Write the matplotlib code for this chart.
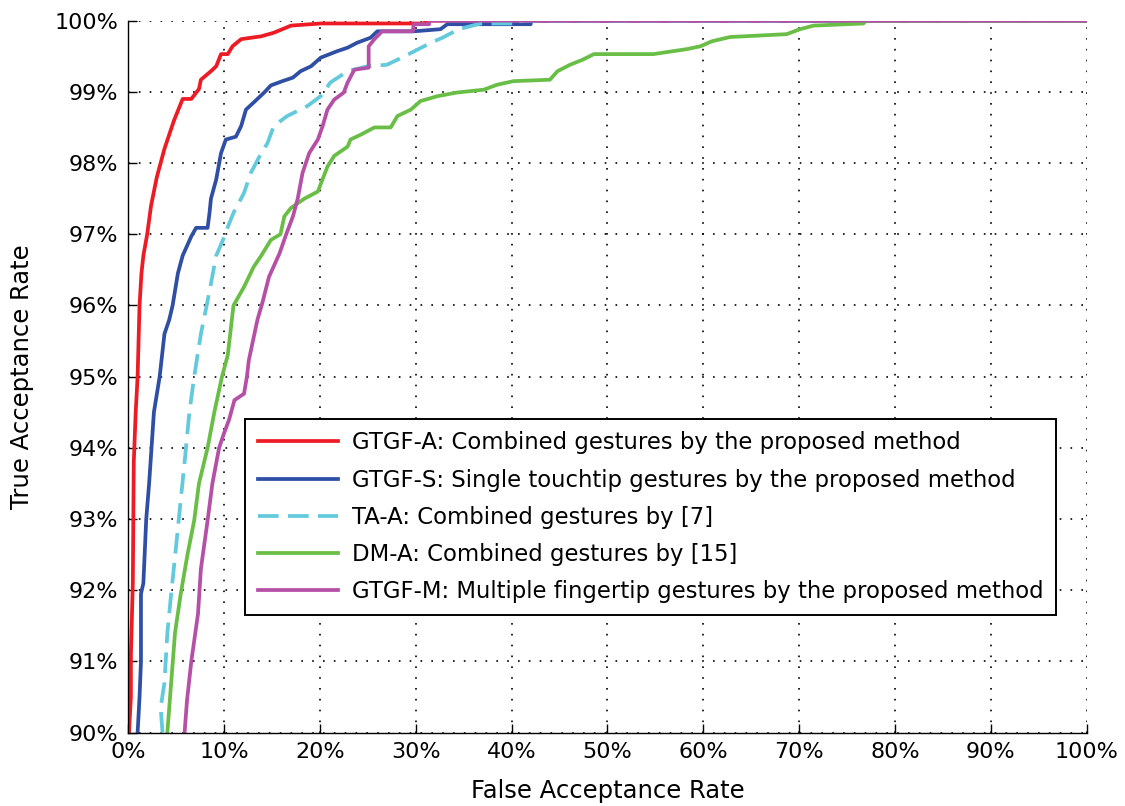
"""ROC comparison of gesture-based authentication methods (FAR vs. TAR)."""

import matplotlib

matplotlib.use("Agg")
import matplotlib.pyplot as plt
from matplotlib.ticker import PercentFormatter

# False / true acceptance rates in percent, one pair of arrays per method.
far_gtgf_a = [0.1, 0.3, 0.3, 0.5, 0.6, 0.8, 1.0, 1.2, 1.4, 1.6, 2.0, 2.4, 3.0,
              3.4, 3.8, 4.3, 4.8, 5.7, 6.6, 7.4, 7.6, 8.65, 9.2, 9.7, 10.4,
              10.9, 11.8, 13.9, 15.2, 16.1, 17.0, 20.1, 31.0, 31.0, 100.0]
tar_gtgf_a = [90.0, 90.5, 91.1, 92.1, 93.8, 94.5, 95.0, 96.0, 96.45, 96.7,
              97.0, 97.4, 97.8, 98.0, 98.2, 98.4, 98.6, 98.9, 98.9, 99.04,
              99.17, 99.29, 99.36, 99.53, 99.53, 99.64, 99.74, 99.78, 99.83,
              99.88, 99.93, 99.96, 99.96, 100.0, 100.0]

far_gtgf_s = [1.0, 1.2, 1.35, 1.35, 1.6, 1.9, 2.2, 2.7, 3.3, 3.8, 4.3, 4.65,
              5.2, 5.7, 6.6, 7.1, 8.3, 8.5, 8.65, 9.2, 9.7, 10.2, 11.25, 11.8,
              12.3, 13.1, 14.2, 14.9, 16.1, 17.2, 18.0, 19.1, 20.1, 21.8,
              22.9, 23.9, 25.3, 26.0, 29.8, 32.6, 33.3, 42.0, 42.0, 100.0]
tar_gtgf_s = [90.0, 90.5, 91.0, 91.95, 92.1, 93.0, 93.5, 94.5, 95.0, 95.6,
              95.8, 96.0, 96.45, 96.7, 96.97, 97.09, 97.09, 97.3, 97.5, 97.77,
              98.14, 98.33, 98.37, 98.52, 98.75, 98.85, 98.99, 99.09, 99.15,
              99.2, 99.29, 99.36, 99.48, 99.57, 99.62, 99.69, 99.76, 99.85,
              99.85, 99.88, 99.95, 99.95, 100.0, 100.0]

far_ta_a = [3.6, 3.4, 3.8, 4.1, 4.5, 5.0, 5.35, 5.9, 6.4, 6.9, 7.6, 8.5, 9.2,
            9.9, 10.4, 11.0, 12.1, 12.8, 13.9, 14.55, 15.2, 16.6, 18.7, 20.1,
            21.1, 22.9, 25.0, 27.0, 28.4, 30.3, 31.6, 32.8, 34.5, 36.8, 41.0,
            41.0, 100.0]
tar_ta_a = [90.0, 90.35, 90.7, 91.4, 91.95, 92.6, 93.07, 93.8, 94.5, 95.0,
            95.6, 96.2, 96.7, 96.92, 97.1, 97.3, 97.58, 97.86, 98.14, 98.28,
            98.52, 98.66, 98.8, 98.94, 99.13, 99.29, 99.36, 99.38, 99.47,
            99.6, 99.69, 99.76, 99.88, 99.96, 99.96, 100.0, 100.0]

far_dm_a = [4.1, 4.5, 4.9, 5.5, 6.2, 6.9, 7.4, 8.3, 9.0, 9.8, 10.4, 11.0,
            12.1, 13.1, 13.9, 14.9, 15.9, 16.3, 17.0, 18.4, 19.8, 20.8, 21.5,
            22.9, 23.2, 24.3, 25.7, 27.4, 28.1, 29.5, 30.5, 32.3, 34.3, 37.1,
            38.5, 40.2, 44.0, 44.8, 46.1, 47.4, 48.6, 54.8, 58.3, 59.7, 60.9,
            62.8, 68.7, 70.1, 71.5, 76.7, 77.0, 100.0]
tar_dm_a = [90.0, 90.7, 91.4, 91.95, 92.5, 92.98, 93.5, 94.0, 94.5, 95.0,
            95.3, 96.0, 96.26, 96.54, 96.7, 96.92, 97.0, 97.25, 97.37, 97.5,
            97.6, 97.95, 98.1, 98.23, 98.33, 98.4, 98.5, 98.5, 98.66, 98.75,
            98.87, 98.94, 98.99, 99.03, 99.1, 99.15, 99.17, 99.29, 99.38,
            99.45, 99.53, 99.53, 99.6, 99.64, 99.71, 99.77, 99.81, 99.88,
            99.93, 99.96, 100.0, 100.0]

far_gtgf_m = [5.9, 6.15, 6.6, 7.3, 7.6, 8.3, 8.8, 9.5, 10.0, 10.55, 11.1,
              12.1, 12.4, 12.6, 13.5, 14.0, 14.7, 15.8, 16.5, 17.2, 17.7,
              18.2, 18.9, 19.8, 20.3, 20.8, 21.5, 22.5, 22.9, 23.6, 25.1,
              25.1, 25.7, 26.5, 29.7, 29.8, 31.4, 31.4, 100.0]
tar_gtgf_m = [90.0, 90.45, 91.0, 91.67, 92.3, 92.98, 93.5, 94.0, 94.2, 94.4,
              94.67, 94.76, 95.0, 95.23, 95.8, 96.03, 96.4, 96.73, 97.0,
              97.25, 97.5, 97.86, 98.14, 98.33, 98.52, 98.75, 98.89, 98.99,
              99.13, 99.31, 99.34, 99.64, 99.74, 99.85, 99.85, 99.95, 99.95,
              100.0, 100.0]

labels = [
    "GTGF-A: Combined gestures by the proposed method",
    "GTGF-S: Single touchtip gestures by the proposed method",
    "TA-A: Combined gestures by [7]",
    "DM-A: Combined gestures by [15]",
    "GTGF-M: Multiple fingertip gestures by the proposed method",
]

plt.rcParams["font.family"] = "DejaVu Sans"
plt.rcParams["font.size"] = 16

fig = plt.figure(figsize=(11.25, 8.06), dpi=100)
ax = fig.add_axes([0.1138, 0.0910, 0.8522, 0.8834])

lw = 2.7
ax.plot(far_gtgf_a, tar_gtgf_a, color="#ed1c24", lw=lw, label=labels[0])
ax.plot(far_gtgf_s, tar_gtgf_s, color="#2f4fa5", lw=lw, label=labels[1])
ax.plot(far_ta_a, tar_ta_a, color="#62cadc", lw=lw,
        linestyle=(0, (5.5, 2.5)), label=labels[2])
ax.plot(far_dm_a, tar_dm_a, color="#69be45", lw=lw, label=labels[3])
ax.plot(far_gtgf_m, tar_gtgf_m, color="#b64fa6", lw=lw, label=labels[4])

ax.set_xlim(0, 100)
ax.set_ylim(90, 100)
ax.set_xticks(range(0, 101, 10))
ax.set_yticks(range(90, 101, 1))
ax.xaxis.set_major_formatter(PercentFormatter(decimals=0))
ax.yaxis.set_major_formatter(PercentFormatter(decimals=0))

ax.grid(True, color="black", linestyle=(0, (1, 5.5)), linewidth=1.2)
ax.set_axisbelow(True)
for side in ("top", "right"):
    ax.spines[side].set_visible(False)
for side in ("left", "bottom"):
    ax.spines[side].set_linewidth(1.0)
ax.tick_params(direction="in", length=6.5, width=1.0, pad=7, labelsize=16)

ax.set_xlabel("False Acceptance Rate", fontsize=17.5, labelpad=12)
ax.set_ylabel("True Acceptance Rate", fontsize=17.5, labelpad=15)

leg = ax.legend(
    loc="upper left",
    bbox_to_anchor=(0.122, 0.4406),
    fontsize=16.4,
    frameon=True,
    fancybox=False,
    handlelength=3.55,
    handletextpad=0.6,
    labelspacing=0.62,
    borderpad=0.55,
    borderaxespad=0,
)
leg.get_frame().set_edgecolor("black")
leg.get_frame().set_linewidth(1.4)
leg.get_frame().set_alpha(1.0)

fig.savefig("out.png", dpi=100)
